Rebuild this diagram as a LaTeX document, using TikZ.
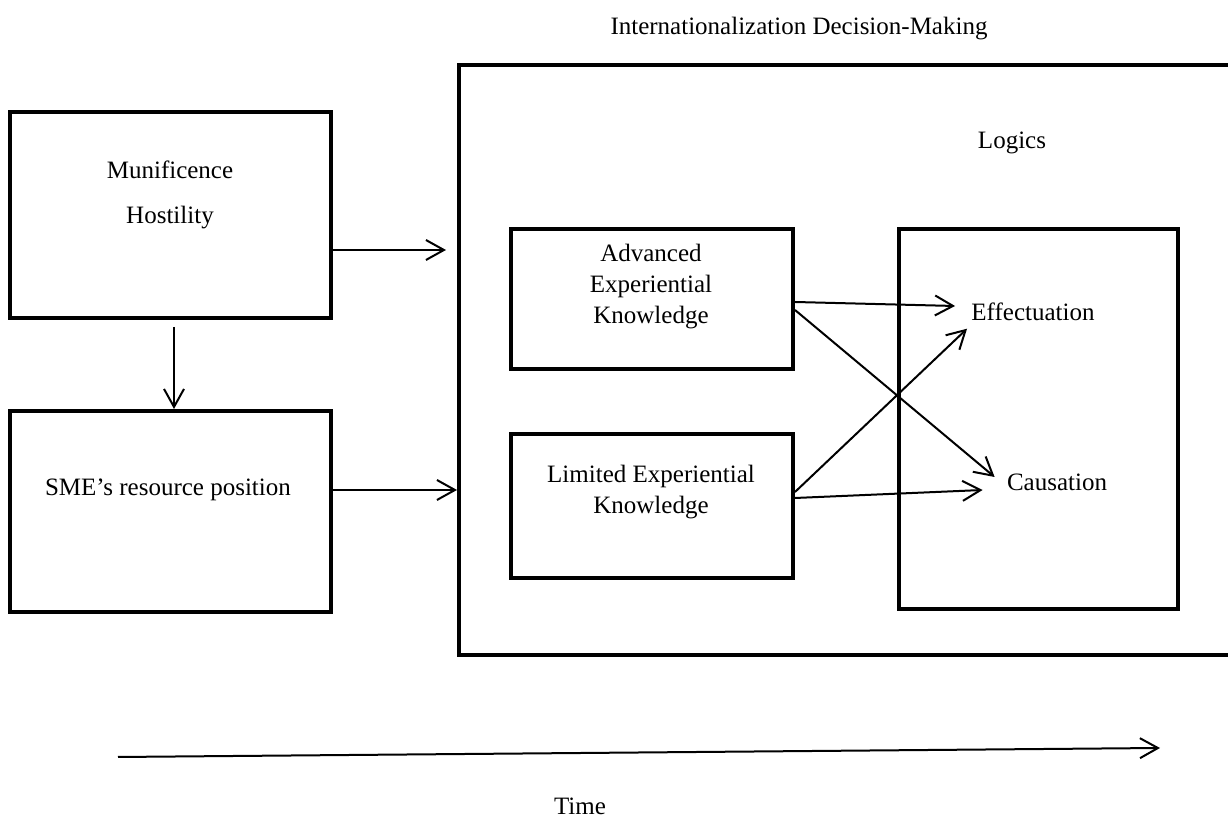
\documentclass[tikz,border=0pt]{standalone}
\usepackage{fontspec}
\setmainfont{Liberation Serif}
\usetikzlibrary{arrows.meta,positioning}

\begin{document}
\begin{tikzpicture}[x=0.5pt, y=-0.5pt,
  >={Straight Barb[length=9pt,width=10pt]},
  box/.style={draw, line width=2pt, inner sep=0pt},
  txt/.style={font=\fontsize{12.5}{15.5}\selectfont, align=center, inner sep=1pt},
  arr/.style={->, line width=1pt}]
\useasboundingbox (0,0) rectangle (1228,822);
% outer frame, its right side runs off the page
\node[box, minimum width=401pt, minimum height=295pt] (idm) at (860,360) {};
\node[txt] (title) at (799,29) {Internationalization Decision-Making};
\node[txt] (logics) at (1012,143) {Logics};
% environment
\node[box, minimum width=160.5pt, minimum height=103pt] (mh) at (170.5,215) {};
\node[txt] (muni) at (170,170) {Munificence};
\node[txt] (host) at (170,218) {Hostility};
\node[box, minimum width=160.5pt, minimum height=100.5pt] (sme) at (170.5,511.5) {};
\node[txt] (res) at (168,490) {SME’s resource position};
% knowledge
\node[box, minimum width=141pt, minimum height=70pt] (adv) at (652,299) {};
\node[txt] (advt) at (651,287) {Advanced\\Experiential\\Knowledge};
\node[box, minimum width=141pt, minimum height=72pt] (lim) at (652,506) {};
\node[txt] (limt) at (651,492) {Limited Experiential\\Knowledge};
% logics
\node[box, minimum width=139.5pt, minimum height=190pt] (lg) at (1038.5,419) {};
\node[txt] (eff) at (1033,312) {Effectuation};
\node[txt] (cau) at (1057,482) {Causation};
\draw[arr, shorten >=5.5pt] ([yshift=-17.5pt]mh.east) -- ([yshift=-17.5pt]mh.east -| idm.west);
\draw[arr, shorten <=3.5pt] ([xshift=1.75pt]mh.south) -- ([xshift=1.75pt]sme.north);
\draw[arr] ([yshift=10.75pt]sme.east) -- ([yshift=10.75pt]sme.east -| idm.west);
\draw[arr] ([yshift=-1.5pt]adv.east) -- ([xshift=-7pt,yshift=3pt]eff.west);
\draw[arr] ([yshift=-5.5pt]adv.east) -- ([xshift=-5pt,yshift=2.5pt]cau.west);
\draw[arr] ([yshift=7pt]lim.east) -- ([xshift=-1pt,yshift=-2.7pt]eff.south west);
\draw[arr] ([yshift=4pt]lim.east) -- ([xshift=-11pt,yshift=-4pt]cau.west);
% time axis
\coordinate (t0) at (118,757);
\coordinate (t1) at (1160,748);
\draw[arr] (t0) -- (t1);
\node[txt] (time) at (580,806) {Time};
\end{tikzpicture}
\end{document}
